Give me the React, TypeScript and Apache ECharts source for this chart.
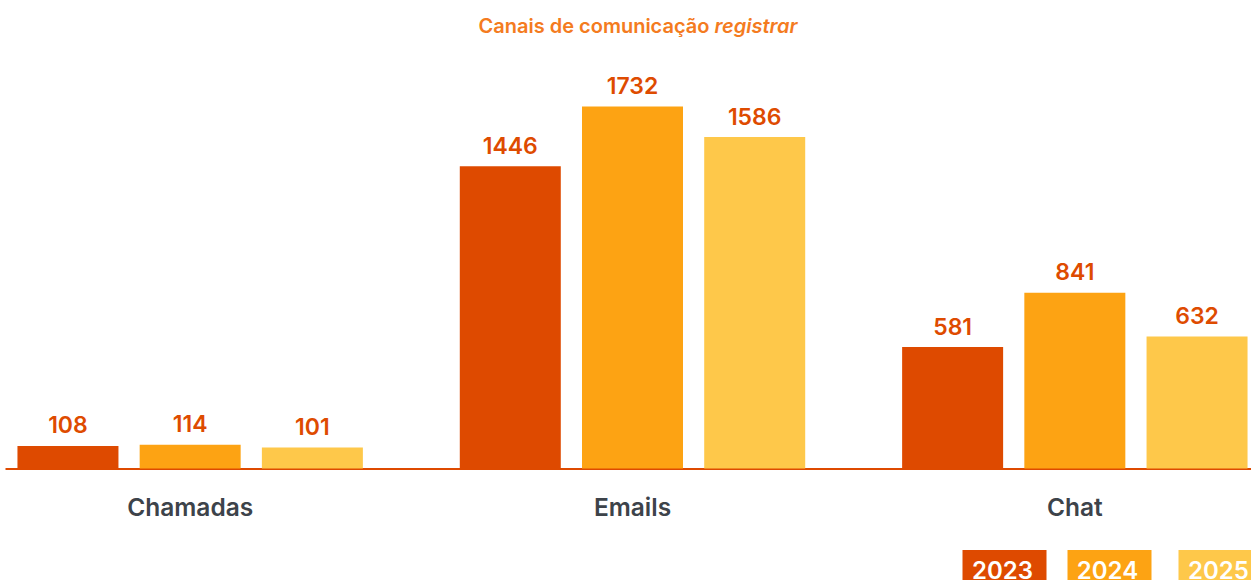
import React, { useEffect, useRef } from "react";
import * as echarts from "echarts";

const categories = ["Chamadas", "Emails", "Chat"];
const years = ["2023", "2024", "2025"];
const values2023 = [108, 1446, 581];
const values2024 = [114, 1732, 841];
const values2025 = [101, 1586, 632];
const seriesValues = [values2023, values2024, values2025];
const colors = ["#de4a00", "#fda313", "#fec84a"];

const FONT = "Inter, 'Noto Sans', sans-serif";
const SHIFT = 31.5; // chart canvas extends beyond the left edge of the view
const legendX = [962, 1067, 1178];

export default function App() {
  const ref = useRef<HTMLDivElement>(null);
  useEffect(() => {
    if (!ref.current) return;
    const chart = echarts.init(ref.current, null, { renderer: "svg" });
    chart.setOption({
      animation: false,
      backgroundColor: "#ffffff",
      textStyle: { fontFamily: FONT },
      title: {
        text: "{n|Canais de comunicação }{i|registrar}",
        left: 632.5 + SHIFT,
        textAlign: "center",
        top: 11,
        textStyle: {
          rich: {
            n: { fontSize: 20, fontWeight: 600, color: "#f47b20", fontFamily: FONT },
            i: { fontSize: 20, fontWeight: 600, fontStyle: "italic", color: "#f47b20", fontFamily: FONT },
          },
        },
      },
      grid: { left: 0, right: 0, top: 50.5, bottom: 111.5, containLabel: false },
      xAxis: {
        type: "category",
        data: categories,
        axisLine: { show: true, lineStyle: { color: "#de4a00", width: 2 } },
        axisTick: { show: false },
        axisLabel: {
          margin: 26,
          fontSize: 24.5,
          fontWeight: 600,
          color: "#3d434a",
          fontFamily: FONT,
        },
      },
      yAxis: { type: "value", min: 0, max: 2000, show: false, splitLine: { show: false } },
      series: years.map((y, i) => ({
        name: y,
        type: "bar",
        data: seriesValues[i],
        barWidth: 101,
        barGap: "21%",
        itemStyle: { color: colors[i] },
        label: {
          show: true,
          position: "top",
          distance: 9,
          fontSize: 23,
          fontWeight: 600,
          color: "#de4b00",
          fontFamily: FONT,
        },
      })),
      graphic: [
        {
          type: "rect",
          left: 0,
          top: 465,
          z: 100,
          shape: { x: 0, y: 0, width: SHIFT + 5, height: 8 },
          style: { fill: "#ffffff" },
        },
        ...years.map((y, i) => ({
          type: "group",
          left: legendX[i] + SHIFT,
          top: 550,
          children: [
            { type: "rect", shape: { x: 0, y: 0, width: 84, height: 36 }, style: { fill: colors[i] } },
            {
              type: "text",
              x: 40,
              y: 20,
              style: {
                text: y,
                fill: "#ffffff",
                font: `600 24px ${FONT}`,
                textAlign: "center",
                textVerticalAlign: "middle",
              },
            },
          ],
        })),
      ],
    });
    return () => chart.dispose();
  }, []);
  return (
    <div style={{ position: "absolute", left: 0, top: 0, width: 1251, height: 580, overflow: "hidden", background: "#fff" }}>
      <div
        ref={ref}
        style={{ position: "absolute", left: -SHIFT, top: 0, width: 1327, height: 580 }}
      />
    </div>
  );
}
